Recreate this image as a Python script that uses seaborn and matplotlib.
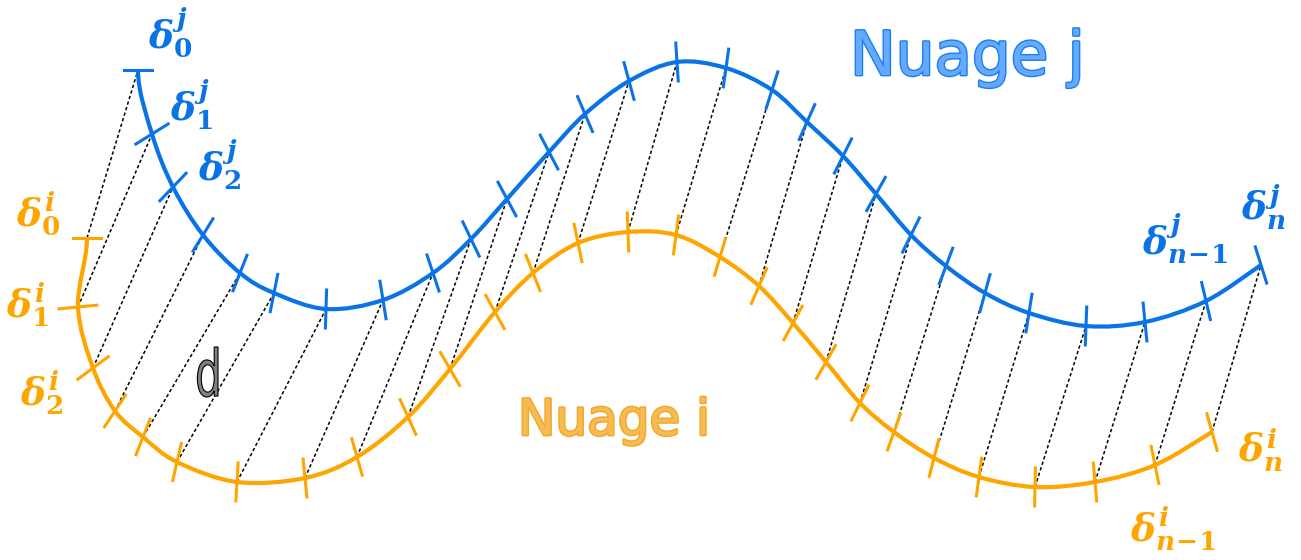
import numpy as np
import pandas as pd
import matplotlib
matplotlib.use("Agg")
import matplotlib.pyplot as plt
import seaborn as sns
import matplotlib.patheffects as pe
from matplotlib.path import Path
from matplotlib.patches import PathPatch
from matplotlib.textpath import TextPath
from matplotlib.font_manager import FontProperties
from matplotlib.transforms import Affine2D

# positions des marques (pixels de l'image, y vers le bas)
blue_x = [138, 152, 173, 203, 240, 274, 326, 383, 433, 471, 507, 549, 585, 629,
          677, 726, 772, 807, 843, 876, 911, 946, 985, 1029, 1086, 1145, 1206, 1261]
blue_y = [70, 134, 187, 235, 273, 293, 309, 300, 273, 239, 199, 152, 114, 81,
          62, 68, 90, 122, 156, 194, 235, 266, 293, 313, 326, 322, 301, 265]
orange_x = [87, 78, 93, 115, 143, 177, 237, 305, 357, 408, 450, 495, 533, 578,
            628, 676, 720, 759, 793, 826, 860, 894, 934, 979, 1035, 1095, 1155, 1212]
orange_y = [238, 307, 368, 411, 437, 462, 482, 478, 457, 417, 369, 312, 273, 243,
            232, 235, 257, 286, 323, 362, 403, 432, 458, 477, 487, 482, 465, 432]

labels_j = [r"$\delta_0^j$", r"$\delta_1^j$", r"$\delta_2^j$", r"$\delta_{n\!-\!1}^j$", r"$\delta_n^j$"]
labels_j_pos = [(170, 33), (191, 105), (220, 165), (1185, 239), (1263, 207)]
labels_i = [r"$\delta_0^i$", r"$\delta_1^i$", r"$\delta_2^i$", r"$\delta_{n\!-\!1}^i$", r"$\delta_n^i$"]
labels_i_pos = [(38, 213), (27, 305), (42, 393), (1173, 529), (1260, 450)]

BLUE = "#0a74e6"
ORANGE = "#ffa500"

plt.rcParams["mathtext.fontset"] = "custom"
plt.rcParams["mathtext.it"] = "DejaVu Serif:italic:bold"
plt.rcParams["mathtext.rm"] = "DejaVu Serif:bold"
plt.rcParams["mathtext.bf"] = "DejaVu Serif:bold"

fig = plt.figure(figsize=(13.01, 5.6), dpi=100)
ax = fig.add_axes([0, 0, 1, 1])
ax.set_xlim(0, 1301)
ax.set_ylim(560, 0)
ax.axis("off")

ASPECT2 = 0.48  # les marques sont normales dans un repère un peu écrasé en x


def smooth_path(xs, ys):
    # courbe de Bezier (Catmull-Rom) passant par les marques, départ vertical
    p = np.column_stack([xs, ys]).astype(float)
    start = np.array([p[1, 0], 2 * p[0, 1] - p[1, 1]])
    ext = np.vstack([start, p, p[-1]])
    verts = [p[0]]
    codes = [Path.MOVETO]
    for k in range(len(p) - 1):
        a, b, c, d = ext[k], ext[k + 1], ext[k + 2], ext[k + 3]
        verts += [b + (c - a) / 6, c - (d - b) / 6, c]
        codes += [Path.CURVE4] * 3
    return Path(verts, codes)


def tick_segments(xs, ys, length, name):
    p = np.column_stack([xs, ys]).astype(float)
    rows = []
    for k in range(len(p)):
        if k == 0:
            t = np.array([0.0, 1.0])
            L = length * 0.75
        else:
            t = p[min(k + 1, len(p) - 1)] - p[k - 1]
            L = length
        n = np.array([-t[1] * ASPECT2, t[0]])
        n = n / np.hypot(*n)
        for s in (-0.5, 0.5):
            q = p[k] + s * L * n
            rows.append({"seg": f"{name}{k}", "x": q[0], "y": q[1]})
    return pd.DataFrame(rows)


# lignes pointillées d'appariement
conn = pd.DataFrame({
    "seg": list(range(len(blue_x))) * 2,
    "x": orange_x + blue_x,
    "y": orange_y + blue_y,
})
sns.lineplot(data=conn, x="x", y="y", units="seg", estimator=None, sort=False,
             color="black", lw=1.1, linestyle=(0, (2.2, 1.6)), ax=ax, zorder=1)

for xs, ys, col, name in [(blue_x, blue_y, BLUE, "b"), (orange_x, orange_y, ORANGE, "o")]:
    ax.add_patch(PathPatch(smooth_path(xs, ys), fill=False, edgecolor=col, lw=3.0, zorder=3))
    ticks = tick_segments(xs, ys, 38, name)
    sns.lineplot(data=ticks, x="x", y="y", units="seg", estimator=None, sort=False,
                 color=col, lw=2.2, ax=ax, zorder=3)

for lab, (x, y) in zip(labels_j, labels_j_pos):
    ax.text(x, y, lab, color=BLUE, fontsize=27, ha="center", va="center")
for lab, (x, y) in zip(labels_i, labels_i_pos):
    ax.text(x, y, lab, color=ORANGE, fontsize=27, ha="center", va="center")

ax.text(850, 75, "Nuage j", color="#66aaff", fontsize=44, family="DejaVu Sans",
        ha="left", va="baseline",
        path_effects=[pe.withStroke(linewidth=2, foreground="#1a7ff0")])
ax.text(518, 435, "Nuage i", color="#f7bb55", fontsize=36, family="DejaVu Sans",
        ha="left", va="baseline",
        path_effects=[pe.withStroke(linewidth=2, foreground="#f5a623")])

# lettre d (étroite, grise, contour noir)
tp = TextPath((0, 0), "d", size=1, prop=FontProperties(family="DejaVu Sans"))
v = tp.vertices
x0, x1, y0, y1 = v[:, 0].min(), v[:, 0].max(), v[:, 1].min(), v[:, 1].max()
sx = (218 - 195) / (x1 - x0)
sy = (397 - 347) / (y1 - y0)
tr = Affine2D().translate(-x0, -y0).scale(sx, -sy).translate(195, 397)
ax.add_patch(PathPatch(tr.transform_path(tp), facecolor="#808080", edgecolor="black",
                       lw=0.8, zorder=4))

if ax.get_legend() is not None:
    ax.get_legend().remove()
fig.savefig("out.png", dpi=100)
